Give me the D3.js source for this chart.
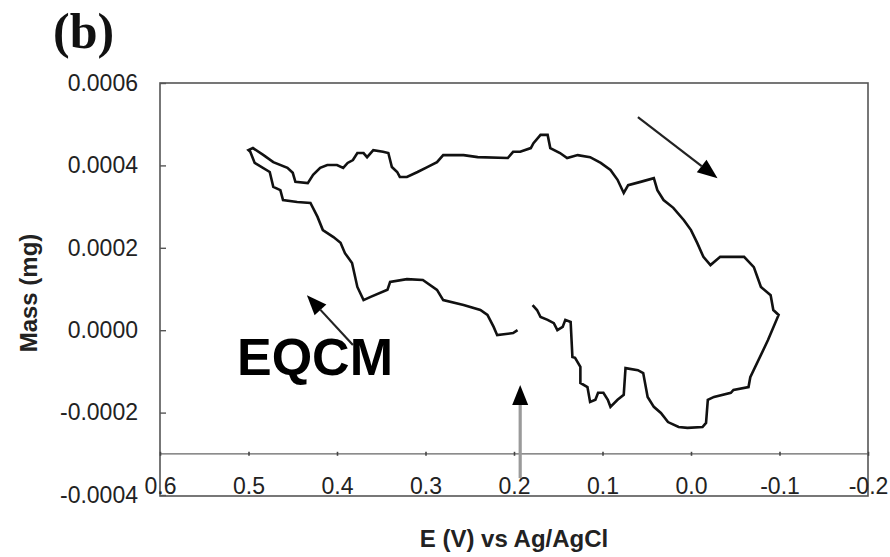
<!DOCTYPE html>
<html><head><meta charset="utf-8">
<script src="https://cdn.jsdelivr.net/npm/d3@7"></script>
<style>body{margin:0;background:#fff} svg{display:block}</style>
</head><body>
<svg id="c" width="890" height="557"></svg>
<script>
// EQCM loop: potential E (V vs Ag/AgCl) and mass change (mg), in scan order
const potential = [
  0.196, 0.201, 0.219, 0.223, 0.230, 0.238, 0.257, 0.280, 0.287, 0.303,
  0.321, 0.340, 0.343, 0.362, 0.370, 0.377, 0.383, 0.391, 0.396, 0.404,
  0.416, 0.422, 0.430, 0.445, 0.461, 0.464, 0.472, 0.476, 0.493, 0.498,
  0.500, 0.495, 0.483, 0.472, 0.456, 0.450, 0.447, 0.433, 0.427, 0.419,
  0.411, 0.400, 0.393, 0.388, 0.382, 0.377, 0.370, 0.366, 0.359, 0.348,
  0.342, 0.338, 0.332, 0.329, 0.321, 0.309, 0.298, 0.287, 0.280, 0.257,
  0.241, 0.207, 0.201, 0.193, 0.181, 0.178, 0.170, 0.162, 0.159, 0.148,
  0.140, 0.128, 0.114, 0.102, 0.091, 0.083, 0.076, 0.071, 0.057, 0.042,
  0.038, 0.031, 0.020, 0.008, 0.000, -0.007, -0.014, -0.022, -0.033, -0.060,
  -0.071, -0.075, -0.079, -0.090, -0.093, -0.099, -0.087, -0.067, -0.065, -0.048,
  -0.045, -0.026, -0.019, -0.017, -0.013, 0.004, 0.014, 0.026, 0.034, 0.042,
  0.049, 0.054, 0.060, 0.074, 0.076, 0.083, 0.091, 0.094, 0.099, 0.105,
  0.108, 0.114, 0.117, 0.125, 0.125, 0.131, 0.134, 0.136, 0.142, 0.145,
  0.151, 0.155, 0.162, 0.170, 0.174, 0.179
];
const mass = [
  0.00e-4, -0.07e-4, -0.12e-4, 0.08e-4, 0.37e-4, 0.49e-4, 0.61e-4, 0.73e-4, 0.98e-4, 1.22e-4,
  1.24e-4, 1.17e-4, 0.98e-4, 0.81e-4, 0.73e-4, 1.05e-4, 1.63e-4, 1.87e-4, 2.12e-4, 2.26e-4,
  2.43e-4, 2.75e-4, 3.09e-4, 3.11e-4, 3.16e-4, 3.40e-4, 3.48e-4, 3.84e-4, 4.06e-4, 4.33e-4,
  4.37e-4, 4.42e-4, 4.25e-4, 4.08e-4, 3.94e-4, 3.82e-4, 3.60e-4, 3.57e-4, 3.77e-4, 3.94e-4,
  4.01e-4, 4.01e-4, 3.94e-4, 4.06e-4, 4.13e-4, 4.30e-4, 4.30e-4, 4.20e-4, 4.37e-4, 4.33e-4,
  4.30e-4, 3.96e-4, 3.84e-4, 3.72e-4, 3.72e-4, 3.84e-4, 3.96e-4, 4.08e-4, 4.25e-4, 4.25e-4,
  4.20e-4, 4.18e-4, 4.33e-4, 4.33e-4, 4.42e-4, 4.54e-4, 4.74e-4, 4.74e-4, 4.42e-4, 4.30e-4,
  4.18e-4, 4.25e-4, 4.20e-4, 4.06e-4, 3.89e-4, 3.65e-4, 3.33e-4, 3.52e-4, 3.60e-4, 3.69e-4,
  3.40e-4, 3.16e-4, 2.97e-4, 2.67e-4, 2.43e-4, 2.12e-4, 1.78e-4, 1.58e-4, 1.78e-4, 1.78e-4,
  1.53e-4, 1.29e-4, 1.05e-4, 0.85e-4, 0.49e-4, 0.37e-4, -0.24e-4, -1.14e-4, -1.38e-4, -1.45e-4,
  -1.52e-4, -1.62e-4, -1.69e-4, -2.25e-4, -2.35e-4, -2.37e-4, -2.35e-4, -2.23e-4, -2.01e-4, -1.86e-4,
  -1.62e-4, -1.04e-4, -0.97e-4, -0.92e-4, -1.57e-4, -1.69e-4, -1.86e-4, -1.69e-4, -1.52e-4, -1.52e-4,
  -1.69e-4, -1.74e-4, -1.38e-4, -1.28e-4, -0.89e-4, -0.67e-4, -0.65e-4, 0.20e-4, 0.25e-4, 0.08e-4,
  0.00e-4, 0.17e-4, 0.25e-4, 0.32e-4, 0.49e-4, 0.61e-4
];
const xTicks = [0.6, 0.5, 0.4, 0.3, 0.2, 0.1, 0.0, -0.1, -0.2];
const xTickLabels = ["0.6", "0.5", "0.4", "0.3", "0.2", "0.1", "0.0", "-0.1", "-0.2"];
const yTicks = [0.0006, 0.0004, 0.0002, 0.0, -0.0002, -0.0004];
const yTickLabels = ["0.0006", "0.0004", "0.0002", "0.0000", "-0.0002", "-0.0004"];
const axisCross = -0.0003;
// annotation arrows (data coordinates): start -> tip
const arrowFromE = [0.060, 0.382, 0.193];
const arrowFromM = [5.17e-4, -0.36e-4, -3.59e-4];
const arrowToE = [-0.030, 0.434, 0.193];
const arrowToM = [3.69e-4, 0.85e-4, -1.33e-4];
const arrowShaft = ["#222", "#222", "#9a9a9a"];
const panelLabel = "(b)";
const noteLabel = "EQCM";
const noteE = 0.513, noteM = -1.09e-4;
const xTitle = "E (V) vs Ag/AgCl";
const yTitle = "Mass (mg)";

const svg = d3.select("#c");
const L = 160, R = 868, T = 83, B = 495;
const x = d3.scaleLinear().domain([0.6, -0.2]).range([L, R]);
const y = d3.scaleLinear().domain([0.0006, -0.0004]).range([T, B]);
const sans = "'Liberation Sans', Arial, Helvetica, sans-serif";

svg.append("rect").attr("width", 890).attr("height", 557).attr("fill", "#fff");

// plot frame
svg.append("rect").attr("x", L).attr("y", T).attr("width", R - L).attr("height", B - T + 1)
  .attr("fill", "none").attr("stroke", "#555").attr("stroke-width", 1.6);

// y axis (ticks inward)
const yAxis = d3.axisLeft(y).tickValues(yTicks).tickSize(-6).tickPadding(22)
  .tickFormat((d, i) => yTickLabels[i]);
const gy = svg.append("g").attr("transform", `translate(${L},0)`).call(yAxis);
gy.select(".domain").remove();
gy.selectAll(".tick line").attr("stroke", "#555").attr("stroke-width", 1.4);
gy.selectAll(".tick text").attr("font-family", sans).attr("font-size", 23).attr("fill", "#222");

// horizontal axis line crossing at -0.0003
const yc = y(axisCross);
svg.append("line").attr("x1", L).attr("x2", R).attr("y1", yc).attr("y2", yc)
  .attr("stroke", "#666").attr("stroke-width", 1.3);
const xAxisTicks = d3.axisBottom(x).tickValues(xTicks).tickSize(4).tickFormat("");
const gxt = svg.append("g").attr("transform", `translate(0,${yc - 2})`).call(xAxisTicks);
gxt.select(".domain").remove();
gxt.selectAll(".tick line").attr("stroke", "#444").attr("stroke-width", 1.6);

// x tick labels sitting on the bottom frame line
const xAxisLabels = d3.axisBottom(x).tickValues(xTicks).tickSize(0).tickPadding(0)
  .tickFormat((d, i) => xTickLabels[i]);
const gx = svg.append("g").attr("transform", `translate(0,${B})`).call(xAxisLabels);
gx.select(".domain").remove();
gx.selectAll(".tick text").attr("y", -1).attr("dy", 0)
  .attr("font-family", sans).attr("font-size", 23).attr("fill", "#222");

// curve
const pts = potential.map((e, i) => [e, mass[i]]);
svg.append("path").datum(pts)
  .attr("d", d3.line().x(d => x(d[0])).y(d => y(d[1])))
  .attr("fill", "none").attr("stroke", "#111").attr("stroke-width", 2.6)
  .attr("stroke-linejoin", "miter");

// arrows
arrowFromE.forEach((e0, i) => {
  const x0 = x(e0), y0 = y(arrowFromM[i]), x1 = x(arrowToE[i]), y1 = y(arrowToM[i]);
  const ang = Math.atan2(y1 - y0, x1 - x0);
  const hl = 20, hw = 8;
  const bx = x1 - hl * Math.cos(ang), by = y1 - hl * Math.sin(ang);
  svg.append("line").attr("x1", x0).attr("y1", y0).attr("x2", bx).attr("y2", by)
    .attr("stroke", arrowShaft[i]).attr("stroke-width", i === 2 ? 3.2 : 2.2);
  const px = -Math.sin(ang) * hw, py = Math.cos(ang) * hw;
  svg.append("path")
    .attr("d", `M${x1},${y1}L${bx + px},${by + py}L${bx - px},${by - py}Z`)
    .attr("fill", "#000");
});

// texts
svg.append("text").attr("x", 53).attr("y", 48).text(panelLabel)
  .attr("font-family", "'Liberation Serif', 'Times New Roman', serif")
  .attr("font-weight", "bold").attr("font-size", 50).attr("fill", "#111");

svg.append("text").attr("x", x(noteE)).attr("y", y(noteM)).text(noteLabel)
  .attr("font-family", sans).attr("font-weight", "bold").attr("font-size", 52).attr("fill", "#000");

svg.append("text").attr("x", (L + R) / 2).attr("y", 547).attr("text-anchor", "middle").text(xTitle)
  .attr("font-family", sans).attr("font-weight", "bold").attr("font-size", 24).attr("fill", "#222");

svg.append("text").attr("transform", `translate(37,293) rotate(-90)`).attr("text-anchor", "middle").text(yTitle)
  .attr("font-family", sans).attr("font-weight", "bold").attr("font-size", 24).attr("fill", "#222");
</script>
</body></html>
